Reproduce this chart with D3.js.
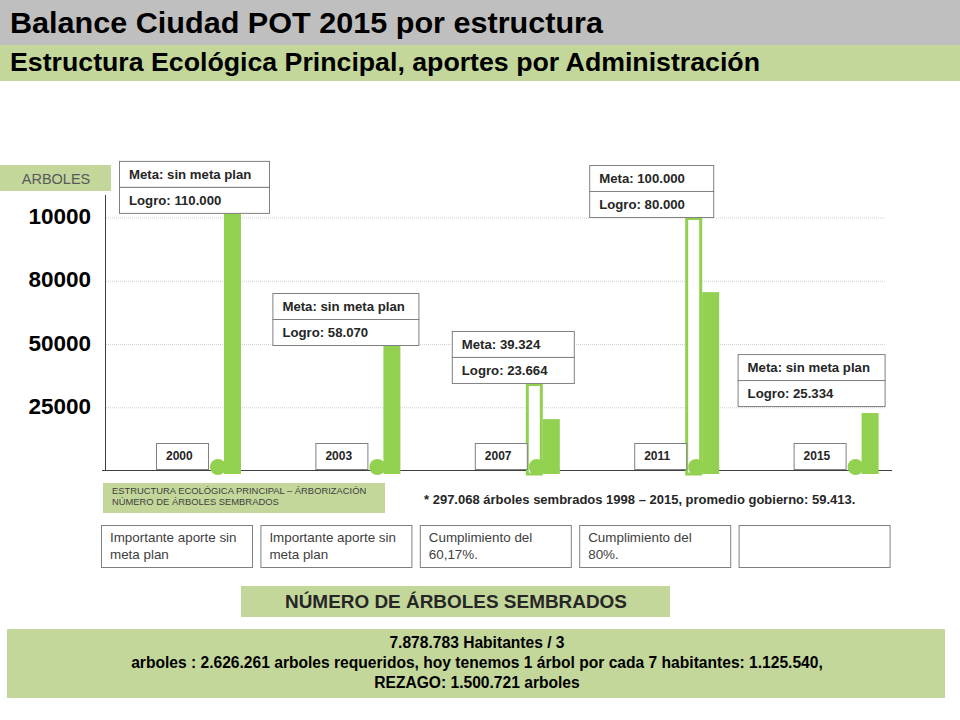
<!DOCTYPE html>
<html>
<head>
<meta charset="utf-8">
<script src="https://cdn.jsdelivr.net/npm/d3@7"></script>
<style>
  body { margin: 0; background: #fff; }
  svg text { font-family: "Liberation Sans", Arial, sans-serif; }
</style>
</head>
<body>
<svg id="chart"></svg>
<script>
// data
const years = ["2000", "2003", "2007", "2011", "2015"],
	logroValues = [103600, 50200, 20500, 70700, 22900],   // drawn height of the solid bars
	metaValues = [null, null, 34800, 100400, null],       // drawn height of the outlined bars
	metaLabels = ["Meta: sin meta plan", "Meta: sin meta plan", "Meta: 39.324", "Meta: 100.000", "Meta: sin meta plan"],
	logroLabels = ["Logro: 110.000", "Logro: 58.070", "Logro: 23.664", "Logro: 80.000", "Logro: 25.334"],
	notes = [
		["Importante aporte sin", "meta plan"],
		["Importante aporte sin", "meta plan"],
		["Cumplimiento del", "60,17%."],
		["Cumplimiento del", "80%."],
		[]
	],
	tickValues = [25000, 50000, 75000, 100000],
	tickLabels = ["25000", "50000", "80000", "10000"];

const footnote = "* 297.068 árboles sembrados 1998 – 2015, promedio gobierno: 59.413.",
	summary = [
		"7.878.783 Habitantes / 3",
		"arboles : 2.626.261 arboles requeridos, hoy tenemos 1 árbol por cada 7 habitantes: 1.125.540,",
		"REZAGO: 1.500.721 arboles"
	];

// annotation box layout (offset from solid bar, width)
const boxDx = [-105, -111, -91, -113, -124],
	boxW = [150, 146, 122, 124, 147],
	boxDy = [4, 1, 0, 0, -7];

const width = 960, height = 720,
	GREEN = '#92d050',
	PALE = '#c4d79b',
	BORDER = '#808080',
	INK = '#262626';

const svg = d3.select('#chart')
	.attr('width', width)
	.attr('height', height);

// Header bands
svg.append('rect').attr('x', 0).attr('y', 0).attr('width', width).attr('height', 45).attr('fill', '#bfbfbf');
svg.append('rect').attr('x', 0).attr('y', 45).attr('width', width).attr('height', 36).attr('fill', PALE);
svg.append('text').attr('x', 10).attr('y', 33)
	.style('font-size', '29px').style('font-weight', 'bold').attr('fill', '#000')
	.attr('textLength', 593).attr('lengthAdjust', 'spacingAndGlyphs')
	.text('Balance Ciudad POT 2015 por estructura');
svg.append('text').attr('x', 10).attr('y', 71)
	.style('font-size', '25px').style('font-weight', 'bold').attr('fill', '#000')
	.attr('textLength', 750).attr('lengthAdjust', 'spacingAndGlyphs')
	.text('Estructura Ecológica Principal, aportes por Administración');

// Scales
const x = d3.scaleBand().domain(years).range([106, 903]),
	y = d3.scaleLinear().domain([0, 100000]).range([471, 218]);

const barLeft = d => x(d) + 118,
	BAR_W = 17;

// ARBOLES tag
svg.append('rect').attr('x', 0).attr('y', 165).attr('width', 111).attr('height', 26).attr('fill', PALE);
svg.append('text').attr('x', 56).attr('y', 184).attr('text-anchor', 'middle')
	.style('font-size', '14.5px').attr('fill', '#595959').text('ARBOLES');

// Grid
svg.append('g').selectAll('line').data(tickValues).join('line')
	.attr('x1', 106).attr('x2', 886)
	.attr('y1', d => y(d)).attr('y2', d => y(d))
	.attr('stroke', '#d0d0d0').attr('stroke-width', 1).attr('stroke-dasharray', '1,1');

// Axes lines
svg.append('line').attr('x1', 105.5).attr('x2', 105.5).attr('y1', 195).attr('y2', y(0))
	.attr('stroke', '#404040').attr('stroke-width', 1);
svg.append('line').attr('x1', 102).attr('x2', 892).attr('y1', y(0) - 0.5).attr('y2', y(0) - 0.5)
	.attr('stroke', '#404040').attr('stroke-width', 1.2);

// Tick labels
svg.append('g').selectAll('text').data(tickValues).join('text')
	.attr('x', 91).attr('y', d => y(d) + 6)
	.attr('text-anchor', 'end')
	.style('font-size', '22.5px').style('font-weight', 'bold').attr('fill', '#000')
	.text((d, i) => tickLabels[i]);

// Groups
const groups = svg.append('g').selectAll('g').data(years).join('g');

// outlined meta bars
groups.filter((d, i) => metaValues[i] != null).append('rect')
	.attr('x', d => barLeft(d) - BAR_W + 1.5)
	.attr('y', d => y(metaValues[years.indexOf(d)]) + 1.5)
	.attr('width', BAR_W - 3)
	.attr('height', d => y(0) + 3 - y(metaValues[years.indexOf(d)]) - 1.5)
	.attr('fill', '#fff').attr('stroke', GREEN).attr('stroke-width', 3);

// circle markers
groups.append('circle')
	.attr('cx', d => barLeft(d) - 6)
	.attr('cy', 467)
	.attr('r', 8)
	.attr('fill', GREEN);

// solid logro bars
groups.append('rect')
	.attr('x', d => barLeft(d))
	.attr('y', (d, i) => y(logroValues[i]))
	.attr('width', BAR_W)
	.attr('height', (d, i) => y(0) + 3 - y(logroValues[i]))
	.attr('fill', GREEN);

// year boxes
groups.append('rect')
	.attr('x', d => barLeft(d) - 16 - 52 + 0.5)
	.attr('y', 443.5)
	.attr('width', 52).attr('height', 26)
	.attr('fill', '#fff').attr('stroke', BORDER);
groups.append('text')
	.attr('x', d => barLeft(d) - 16 - 52 + 10)
	.attr('y', 460)
	.style('font-size', '12px').style('font-weight', 'bold').attr('fill', INK)
	.text(d => d);

// Meta / Logro boxes
groups.each(function (d, i) {
	const g = d3.select(this),
		top = Math.max(logroValues[i], metaValues[i] || 0),
		bottom = y(top) + boxDy[i],
		left = barLeft(d) + boxDx[i],
		w = boxW[i];
	g.append('rect').attr('x', left + 0.5).attr('y', bottom - 52 + 0.5)
		.attr('width', w).attr('height', 26).attr('fill', '#fff').attr('stroke', BORDER);
	g.append('rect').attr('x', left + 0.5).attr('y', bottom - 26 + 0.5)
		.attr('width', w).attr('height', 26).attr('fill', '#fff').attr('stroke', BORDER);
	g.append('text').attr('x', left + 10).attr('y', bottom - 34)
		.style('font-size', '13.2px').style('font-weight', 'bold').attr('fill', INK)
		.text(metaLabels[i]);
	g.append('text').attr('x', left + 10).attr('y', bottom - 8)
		.style('font-size', '13.2px').style('font-weight', 'bold').attr('fill', INK)
		.text(logroLabels[i]);
});

// Legend tag under chart
svg.append('rect').attr('x', 103).attr('y', 483).attr('width', 282).attr('height', 30).attr('fill', PALE);
svg.append('text').attr('x', 112).attr('y', 494)
	.style('font-size', '9.4px').attr('fill', '#404040')
	.text('ESTRUCTURA ECOLÓGICA PRINCIPAL – ÁRBORIZACIÓN');
svg.append('text').attr('x', 112).attr('y', 505)
	.style('font-size', '9.4px').attr('fill', '#404040')
	.text('NÚMERO DE ÁRBOLES  SEMBRADOS');

svg.append('text').attr('x', 424).attr('y', 504)
	.style('font-size', '13px').style('font-weight', 'bold').attr('fill', INK)
	.text(footnote);

// Notes row
const noteG = svg.append('g').selectAll('g').data(years).join('g');
noteG.append('rect')
	.attr('x', d => x(d) - 4.5).attr('y', 525.5)
	.attr('width', 151).attr('height', 42)
	.attr('fill', '#fff').attr('stroke', BORDER);
noteG.selectAll('text').data((d, i) => notes[i].map(t => ({ t, d }))).join('text')
	.attr('x', o => x(o.d) + 4)
	.attr('y', (o, j) => 542 + j * 17)
	.style('font-size', '13.4px').attr('fill', '#404040')
	.text(o => o.t);

// Section banner
svg.append('rect').attr('x', 241).attr('y', 586).attr('width', 429).attr('height', 31).attr('fill', PALE);
svg.append('text').attr('x', 285).attr('y', 608)
	.style('font-size', '18px').style('font-weight', 'bold').attr('fill', INK)
	.attr('textLength', 342).attr('lengthAdjust', 'spacingAndGlyphs')
	.text('NÚMERO  DE ÁRBOLES SEMBRADOS');

// Summary box
svg.append('rect').attr('x', 7).attr('y', 629).attr('width', 938).attr('height', 69).attr('fill', PALE);
svg.append('g').selectAll('text').data(summary).join('text')
	.attr('x', 477).attr('y', (d, i) => 648 + i * 20)
	.attr('text-anchor', 'middle')
	.style('font-size', '15.6px').style('font-weight', 'bold').attr('fill', '#000')
	.text(d => d);
</script>
</body>
</html>
